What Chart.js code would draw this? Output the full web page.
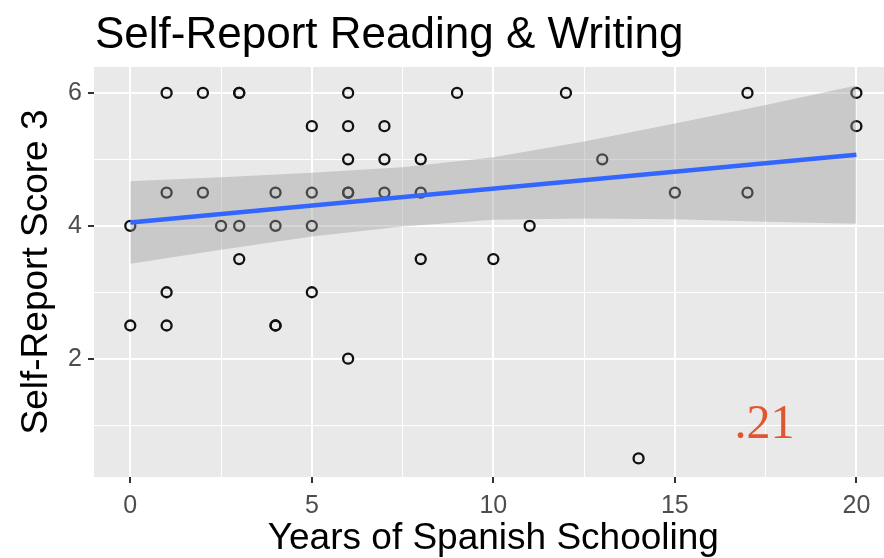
<!DOCTYPE html>
<html>
<head>
<meta charset="utf-8">
<title>Self-Report Reading &amp; Writing</title>
<script src="https://cdn.jsdelivr.net/npm/chart.js@4/dist/chart.umd.min.js"></script>
<style>
  html, body { margin: 0; padding: 0; background: #ffffff; overflow: hidden; width: 884px; height: 558px; }
  #wrap { width: 900px; height: 558px; }
</style>
</head>
<body>
<div id="wrap"><canvas id="chart" width="900" height="558"></canvas></div>
<script>
// Years of Spanish schooling vs. self-reported reading & writing score
const schoolingYears = [
  0, 0,
  1, 1, 1, 1,
  2, 2,
  2.5,
  3, 3, 3, 3,
  4, 4, 4, 4,
  5, 5, 5, 5,
  6, 6, 6, 6, 6, 6,
  7, 7, 7,
  8, 8, 8,
  9, 10, 11, 12, 13, 14, 15,
  17, 17,
  20, 20
];
const selfReportScores = [
  4, 2.5,
  6, 4.5, 3, 2.5,
  6, 4.5,
  4,
  6, 6, 4, 3.5,
  4.5, 4, 2.5, 2.5,
  5.5, 4.5, 4, 3,
  6, 5.5, 5, 4.5, 4.5, 2,
  5.5, 5, 4.5,
  5, 4.5, 3.5,
  6, 3.5, 4, 6, 5, 0.5, 4.5,
  6, 4.5,
  6, 5.5
];

// Linear fit and its confidence band
const fitYears = [0, 20];
const fitScores = [4.05, 5.07];
const bandYears = [0, 2.5, 5, 7.5, 10, 12.5, 15, 17.5, 20];
const bandLower = [3.43, 3.64, 3.84, 3.99, 4.09, 4.11, 4.10, 4.06, 4.03];
const bandUpper = [4.67, 4.73, 4.80, 4.88, 5.03, 5.27, 5.54, 5.82, 6.11];

// Axis ticks
const xTickLabels = [0, 5, 10, 15, 20];
const yTickLabels = [2, 4, 6];

// Correlation note
const noteText = '.21';
const notePosition = [17.47, 0.8];

const chartTitle = 'Self-Report Reading & Writing';
const xTitle = 'Years of Spanish Schooling';
const yTitle = 'Self-Report Score 3';

const toPoints = (xs, ys) => xs.map((x, i) => ({ x: x, y: ys[i] }));

const panelPlugin = {
  id: 'panel',
  beforeDraw(chart) {
    const { ctx, chartArea: a } = chart;
    ctx.save();
    ctx.fillStyle = '#E9E9E9';
    ctx.fillRect(a.left, a.top, a.right - a.left, a.bottom - a.top);
    ctx.restore();
  },
  afterDraw(chart) {
    const { ctx, scales } = chart;
    ctx.save();
    ctx.fillStyle = '#000000';
    ctx.font = '44px "Liberation Sans", Arial, sans-serif';
    ctx.textAlign = 'left';
    ctx.textBaseline = 'alphabetic';
    ctx.fillText(chartTitle, 95, 48);

    ctx.fillStyle = '#E2552F';
    ctx.font = '48px "Liberation Serif", "DejaVu Serif", serif';
    ctx.textAlign = 'center';
    ctx.fillText(noteText, scales.x.getPixelForValue(notePosition[0]), scales.y.getPixelForValue(notePosition[1]));
    ctx.restore();
  }
};

const isMajor = (axisTicks, v) => axisTicks.includes(v);

new Chart(document.getElementById('chart'), {
  type: 'scatter',
  data: {
    datasets: [
      {
        label: 'lower',
        data: toPoints(bandYears, bandLower),
        showLine: true,
        borderWidth: 0,
        borderColor: 'rgba(0,0,0,0)',
        pointRadius: 0,
        fill: false,
        order: 2
      },
      {
        label: 'band',
        data: toPoints(bandYears, bandUpper),
        showLine: true,
        borderWidth: 0,
        borderColor: 'rgba(0,0,0,0)',
        pointRadius: 0,
        backgroundColor: 'rgba(153,153,153,0.4)',
        fill: '-1',
        order: 2
      },
      {
        label: 'fit',
        data: toPoints(fitYears, fitScores),
        showLine: true,
        borderColor: '#3366FF',
        borderWidth: 4.5,
        borderCapStyle: 'butt',
        pointRadius: 0,
        fill: false,
        order: 1
      },
      {
        label: 'scores',
        data: toPoints(schoolingYears, selfReportScores),
        pointStyle: 'circle',
        pointRadius: 5,
        pointBorderWidth: 2.3,
        borderColor: '#111111',
        backgroundColor: 'rgba(0,0,0,0)',
        order: 3
      }
    ]
  },
  options: {
    responsive: false,
    animation: false,
    devicePixelRatio: 1,
    layout: { padding: { top: 67, right: 7, bottom: 0, left: 0 } },
    plugins: {
      legend: { display: false },
      tooltip: { enabled: false },
      title: { display: false }
    },
    scales: {
      x: {
        type: 'linear',
        min: -1,
        max: 21,
        afterFit(scale) { scale.height = 81; },
        border: { display: false },
        grid: {
          color: '#FFFFFF',
          lineWidth: (c) => (c.tick && isMajor(xTickLabels, c.tick.value)) ? 2 : 1,
          tickColor: (c) => (c.tick && isMajor(xTickLabels, c.tick.value)) ? '#333333' : 'rgba(0,0,0,0)',
          tickWidth: 2,
          tickLength: 6
        },
        ticks: {
          stepSize: 2.5,
          includeBounds: false,
          autoSkip: false,
          maxRotation: 0,
          padding: 8,
          color: '#4D4D4D',
          font: { family: '"Liberation Sans", Arial, sans-serif', size: 25 },
          callback: (v) => isMajor(xTickLabels, v) ? String(v) : ''
        },
        title: {
          display: true,
          text: xTitle,
          color: '#000000',
          font: { family: '"Liberation Sans", Arial, sans-serif', size: 37, lineHeight: 1 },
          padding: { top: 0, bottom: 1 }
        }
      },
      y: {
        type: 'linear',
        min: 0.22,
        max: 6.39,
        afterFit(scale) { scale.width = 94; },
        border: { display: false },
        grid: {
          color: '#FFFFFF',
          lineWidth: (c) => (c.tick && isMajor(yTickLabels, c.tick.value)) ? 2 : 1,
          tickColor: (c) => (c.tick && isMajor(yTickLabels, c.tick.value)) ? '#333333' : 'rgba(0,0,0,0)',
          tickWidth: 2,
          tickLength: 6
        },
        ticks: {
          stepSize: 1,
          includeBounds: false,
          autoSkip: false,
          padding: 6,
          color: '#4D4D4D',
          font: { family: '"Liberation Sans", Arial, sans-serif', size: 25 },
          callback: (v) => isMajor(yTickLabels, v) ? String(v) : ''
        },
        title: {
          display: true,
          text: yTitle,
          color: '#000000',
          font: { family: '"Liberation Sans", Arial, sans-serif', size: 37, lineHeight: 1 },
          padding: { top: 18, bottom: 0 }
        }
      }
    }
  },
  plugins: [panelPlugin]
});
</script>
</body>
</html>
